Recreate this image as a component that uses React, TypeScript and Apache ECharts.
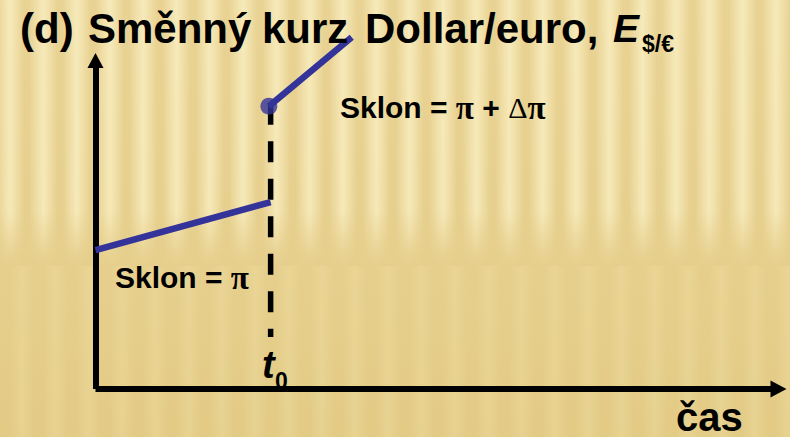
import React, { useEffect, useRef } from "react";
import * as echarts from "echarts";

// ---- data (axis units: x = time, y = exchange rate) ----
const xRange = [0, 39];
const yRange = [0, 100];
const t0 = 10;
const slopeBefore = [
  [0, 42.3],
  [10, 56.9],
];
const slopeAfter = [
  [9.9, 86.1],
  [14.63, 107.1],
];
const jumpPoint = [[9.9, 86.1]];
const dashedGuide = [
  [t0, 86.8],
  [t0, 15.8],
];

const titleWords = ["(d)", "Směnný", "kurz", "Dollar/euro,"];
const titleVar = "E";
const titleSub = "$/€";
const labelAfter = "Sklon = {p|π} + {d|Δ}{p|π}";
const labelBefore = "Sklon = {p|π}";
const t0Label = "t";
const t0Sub = "0";
const xName = "čas";

const FONT = "'Liberation Sans', Arial, Helvetica, sans-serif";
const SERIF = "'Liberation Serif', 'Times New Roman', serif";

function txt(
  text: string,
  x: number,
  baseline: number,
  size: number,
  opts: { italic?: boolean; z?: number; rich?: boolean } = {}
) {
  const y = baseline - 0.3465 * size;
  const style: any = {
    text,
    font: `${opts.italic ? "italic " : ""}bold ${size}px ${FONT}`,
    fill: "#000",
    textAlign: "left",
    textVerticalAlign: "middle",
    verticalAlign: "middle",
  };
  if (opts.rich) {
    style.rich = {
      p: { font: `bold ${size + 3}px ${SERIF}`, fill: "#000" },
      d: { font: `${size}px ${SERIF}`, fill: "#000" },
    };
  }
  return {
    type: "text",
    x,
    y,
    z: opts.z ?? 10,
    silent: true,
    style,
  };
}

function backgroundElements(W: number, H: number) {
  const els: any[] = [];
  const boundary = 256;
  // upper, strongly striped band
  for (let i = 0; i < 25; i++) {
    const cx = 10 + i * 33.3;
    els.push({
      type: "rect",
      z: -9,
      silent: true,
      shape: { x: cx - 14, y: 0, width: 28, height: boundary + 8 },
      style: {
        fill: new echarts.graphic.LinearGradient(0, 0, 1, 0, [
          { offset: 0, color: "rgba(250,240,196,0)" },
          { offset: 0.5, color: "rgba(250,240,196,0.8)" },
          { offset: 1, color: "rgba(250,240,196,0)" },
        ]),
      },
    });
  }
  // blend of the band's lower edge
  els.push({
    type: "rect",
    z: -8,
    silent: true,
    shape: { x: 0, y: boundary - 45, width: W, height: 55 },
    style: {
      fill: new echarts.graphic.LinearGradient(0, 0, 0, 1, [
        { offset: 0, color: "rgba(230,207,141,0)" },
        { offset: 0.8, color: "rgba(230,207,141,0.85)" },
        { offset: 1, color: "rgba(230,207,141,1)" },
      ]),
    },
  });
  // lower, faintly striped area
  for (let i = 0; i < 25; i++) {
    const cx = 22 + i * 33.3;
    els.push({
      type: "rect",
      z: -7,
      silent: true,
      shape: { x: cx - 12, y: boundary + 10, width: 24, height: H - boundary - 10 },
      style: {
        fill: new echarts.graphic.LinearGradient(0, 0, 1, 0, [
          { offset: 0, color: "rgba(240,224,166,0)" },
          { offset: 0.5, color: "rgba(240,224,166,0.35)" },
          { offset: 1, color: "rgba(240,224,166,0)" },
        ]),
      },
    });
  }
  return els;
}

export default function App() {
  const ref = useRef<HTMLDivElement>(null);

  useEffect(() => {
    if (!ref.current) return;
    const W = 790;
    const H = 437;
    const chart = echarts.init(ref.current, undefined, {
      renderer: "svg",
      width: W,
      height: H,
    });
    const blue = "#333399";
    const axisCommon = {
      type: "value",
      axisLine: {
        show: true,
        onZero: false,
        symbol: ["none", "triangle"],
        symbolSize: [17, 16],
        lineStyle: { color: "#000", width: 6, cap: "butt" },
      },
      axisTick: { show: false },
      axisLabel: { show: false },
      splitLine: { show: false },
    };
    const titleX = [20, 88, 262, 365];
    chart.setOption({
      animation: false,
      backgroundColor: new echarts.graphic.LinearGradient(0, 0, 0, 1, [
        { offset: 0, color: "#e9d394" },
        { offset: 0.6, color: "#e6cf8d" },
        { offset: 1, color: "#e3cb86" },
      ]),
      grid: { left: 95.5, top: 60.5, right: 11.5, bottom: 48 },
      xAxis: { ...axisCommon, min: xRange[0], max: xRange[1] },
      yAxis: {
        ...axisCommon,
        min: yRange[0],
        max: yRange[1],
        axisLine: { ...axisCommon.axisLine, symbolSize: [16, 15] },
      },
      series: [
        {
          type: "line",
          data: dashedGuide,
          symbol: "none",
          clip: false,
          z: 3,
          lineStyle: { color: "#000", width: 5.5, type: [21, 16.5], cap: "butt" },
        },
        {
          type: "line",
          data: slopeBefore,
          symbol: "none",
          clip: false,
          z: 4,
          lineStyle: { color: blue, width: 6.5, cap: "butt" },
        },
        {
          type: "line",
          data: slopeAfter,
          symbol: "none",
          clip: false,
          z: 4,
          lineStyle: { color: blue, width: 6.5, cap: "butt" },
        },
        {
          type: "scatter",
          data: jumpPoint,
          symbol: "circle",
          symbolSize: 17,
          clip: false,
          z: 5,
          itemStyle: { color: blue },
        },
      ],
      graphic: [
        ...backgroundElements(W, H),
        ...titleWords.map((w, i) => txt(w, titleX[i], 43, 42)),
        txt(titleVar, 613, 42.5, 39, { italic: true }),
        txt(titleSub, 642, 52, 23),
        txt(labelAfter, 340, 118, 30, { rich: true }),
        txt(labelBefore, 115, 288, 30, { rich: true }),
        txt(t0Label, 262, 378, 38, { italic: true }),
        txt(t0Sub, 275, 389, 23, { z: -1 }),
        txt(xName, 676, 431, 40),
      ],
    });
    return () => chart.dispose();
  }, []);

  return (
    <div
      ref={ref}
      style={{ width: 790, height: 437, position: "absolute", left: 0, top: 0 }}
    />
  );
}
